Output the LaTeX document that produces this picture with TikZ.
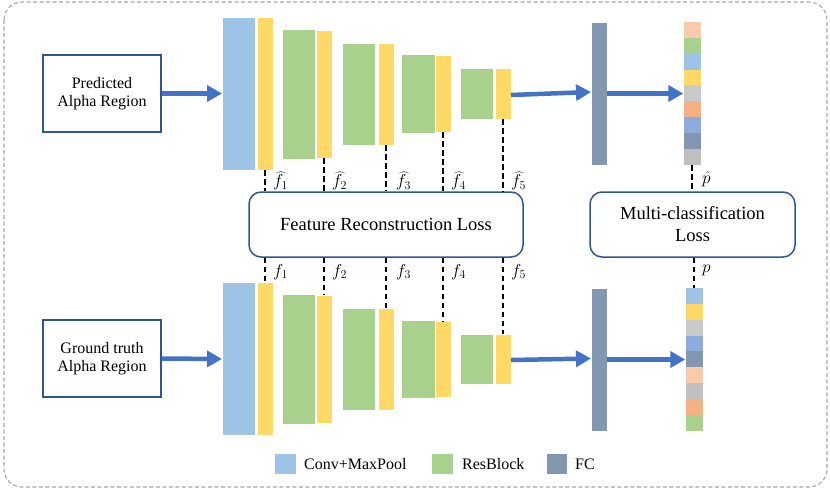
\documentclass[tikz,border=0pt]{standalone}
\usepackage{fontspec}
\setmainfont{Liberation Serif}
\usetikzlibrary{arrows.meta,calc}
\definecolor{cblue}{HTML}{9DC3E6}
\definecolor{cyellow}{HTML}{FFD966}
\definecolor{cgreen}{HTML}{A9D18E}
\definecolor{cfc}{HTML}{8497B0}
\definecolor{cpeach}{HTML}{F8CBAD}
\definecolor{cgray}{HTML}{C9C9C9}
\definecolor{cgrayb}{HTML}{BFBFBF}
\definecolor{corange}{HTML}{F4B183}
\definecolor{cmblue}{HTML}{8FAADC}
\definecolor{boxblue}{HTML}{2F5597}
\definecolor{arrblue}{HTML}{4472C4}
\definecolor{outer}{HTML}{A6A6A6}
\tikzset{
  blk/.style={draw=white, line width=0.6pt, inner sep=0pt, outer sep=0pt},
  inbox/.style={draw=boxblue, line width=1.5pt, inner sep=0pt, align=center,
    font=\fontsize{16}{18.5}\selectfont},
  lossbox/.style={draw=boxblue, line width=1.5pt, rounded corners=12pt, inner sep=0pt,
    align=center, font=\fontsize{18.5}{22}\selectfont},
  bigarrow/.style={draw=arrblue, line width=4.5pt, -{Triangle[length=15pt,width=16pt]}},
  dashline/.style={draw=black, line width=2pt, dash pattern=on 5.5pt off 3.5pt},
  flabel/.style={anchor=west, inner sep=0pt, font=\fontsize{18}{20}\selectfont},
  legtext/.style={anchor=west, inner sep=0pt, font=\fontsize{16}{18}\selectfont},
}
\begin{document}
\begin{tikzpicture}[x=1pt,y=-1pt]
\useasboundingbox (0,0) rectangle (830,491);
\draw[outer, line width=1.1pt, dash pattern=on 4pt off 2.5pt, rounded corners=18pt] (4,2) rectangle (827,487);

% input boxes
\node[inbox, minimum width=118pt, minimum height=77pt] (pred) at (102,93.5) {Predicted\\Alpha Region};
\node[inbox, minimum width=118pt, minimum height=77pt] (gt) at (102,358.5) {Ground truth\\Alpha Region};

% top encoder
\node[blk, fill=cblue, minimum width=33pt, minimum height=153pt] (tc1) at (238.5,93.5) {};
\node[blk, fill=cyellow, minimum width=16pt, minimum height=153pt] (ty1) at (265,93.5) {};
\node[blk, fill=cgreen, minimum width=33pt, minimum height=130pt] (tg2) at (298.5,94) {};
\node[blk, fill=cyellow, minimum width=16pt, minimum height=128pt] (ty2) at (324,94) {};
\node[blk, fill=cgreen, minimum width=33pt, minimum height=102pt] (tg3) at (358.5,94) {};
\node[blk, fill=cyellow, minimum width=16pt, minimum height=102pt] (ty3) at (386,94) {};
\node[blk, fill=cgreen, minimum width=34pt, minimum height=79pt] (tg4) at (418,93.5) {};
\node[blk, fill=cyellow, minimum width=16pt, minimum height=77pt] (ty4) at (443,93.5) {};
\node[blk, fill=cgreen, minimum width=33pt, minimum height=51pt] (tg5) at (476.5,93.5) {};
\node[blk, fill=cyellow, minimum width=16pt, minimum height=51pt] (ty5) at (503,93.5) {};
\node[blk, fill=cfc, minimum width=16pt, minimum height=143pt] (tfc) at (599,93.5) {};
\node[inner sep=0pt, minimum width=17pt, minimum height=143pt] (tv) at (692,93.5) {};
\foreach \c [count=\i] in {cpeach,cgreen,cblue,cyellow,cgray,corange,cmblue,cfc,cgrayb}{
  \node[inner sep=0pt, outer sep=0pt, fill=\c, minimum width=17pt, minimum height=15.9pt, anchor=north]
    (tv-\i) at ($(tv.north)+(0,{(\i-1)*15.9})$) {};
}

% bottom encoder
\node[blk, fill=cblue, minimum width=33pt, minimum height=153pt] (bc1) at (238.5,359) {};
\node[blk, fill=cyellow, minimum width=16pt, minimum height=153pt] (by1) at (265,359) {};
\node[blk, fill=cgreen, minimum width=33pt, minimum height=130pt] (bg2) at (298.5,359) {};
\node[blk, fill=cyellow, minimum width=16pt, minimum height=128pt] (by2) at (324,359) {};
\node[blk, fill=cgreen, minimum width=33pt, minimum height=102pt] (bg3) at (358.5,359) {};
\node[blk, fill=cyellow, minimum width=16pt, minimum height=102pt] (by3) at (386,359) {};
\node[blk, fill=cgreen, minimum width=34pt, minimum height=78pt] (bg4) at (418,359) {};
\node[blk, fill=cyellow, minimum width=16pt, minimum height=76pt] (by4) at (443,359) {};
\node[blk, fill=cgreen, minimum width=33pt, minimum height=50pt] (bg5) at (476.5,359) {};
\node[blk, fill=cyellow, minimum width=16pt, minimum height=50pt] (by5) at (503,359) {};
\node[blk, fill=cfc, minimum width=16pt, minimum height=143pt] (bfc) at (599,359.5) {};
\node[inner sep=0pt, minimum width=17pt, minimum height=143pt] (bv) at (694,359.5) {};
\foreach \c [count=\i] in {cblue,cyellow,cgray,cmblue,cfc,cpeach,cgrayb,corange,cgreen}{
  \node[inner sep=0pt, outer sep=0pt, fill=\c, minimum width=17pt, minimum height=15.9pt, anchor=north]
    (bv-\i) at ($(bv.north)+(0,{(\i-1)*15.9})$) {};
}

% loss boxes
\node[lossbox, minimum width=274pt, minimum height=65pt] (frl) at (386,224.5) {Feature Reconstruction Loss};
\node[lossbox, minimum width=205pt, minimum height=65pt] (mcl) at (692.5,224.5) {Multi-classification\\Loss};

% arrows
\draw[bigarrow] (pred.east) -- (tc1.west);
\draw[bigarrow] (gt.east) -- (bc1.west);
\draw[bigarrow] ([yshift=-1.5pt]ty5.east) -- ([yshift=1.5pt]tfc.west);
\draw[bigarrow] ([yshift=-1pt]by5.east) -- ([yshift=1pt]bfc.west);
\draw[bigarrow] (tfc.east) -- (tv.west);
\draw[bigarrow] (bfc.east) -- (bv.west);

% dashed connectors and labels
\foreach \n in {1,2,3,4,5}{
  \draw[dashline] (ty\n.south) -- (ty\n.south |- frl.north);
  \draw[dashline] (frl.south -| by\n.north) -- (by\n.north);
}
\node[flabel] (lt1) at (273,181) {$\widehat{f}_1$};
\node[flabel] (lt2) at (332,181) {$\widehat{f}_2$};
\node[flabel] (lt3) at (396,181) {$\widehat{f}_3$};
\node[flabel] (lt4) at (451,181) {$\widehat{f}_4$};
\node[flabel] (lt5) at (511,181) {$\widehat{f}_5$};
\node[flabel] (lb1) at (273,272) {$f_1$};
\node[flabel] (lb2) at (332,272) {$f_2$};
\node[flabel] (lb3) at (396,272) {$f_3$};
\node[flabel] (lb4) at (451,272) {$f_4$};
\node[flabel] (lb5) at (511,272) {$f_5$};

\draw[dashline] (tv.south) -- (tv.south |- mcl.north);
\draw[dashline] (mcl.south -| bv.north) -- (bv.north);
\node[flabel] (lph) at (702,179) {$\hat{p}$};
\node[flabel] (lp) at (702,270) {$p$};

% legend
\node[fill=cblue, inner sep=0pt, minimum width=21pt, minimum height=20pt] (k1) at (285.5,464) {};
\node[legtext] (k1t) at (304,464) {Conv+MaxPool};
\node[fill=cgreen, inner sep=0pt, minimum width=21pt, minimum height=20pt] (k2) at (442.5,464) {};
\node[legtext] (k2t) at (462,464) {ResBlock};
\node[fill=cfc, inner sep=0pt, minimum width=20pt, minimum height=20pt] (k3) at (557,464) {};
\node[legtext] (k3t) at (575,464) {FC};
\end{tikzpicture}
\end{document}
